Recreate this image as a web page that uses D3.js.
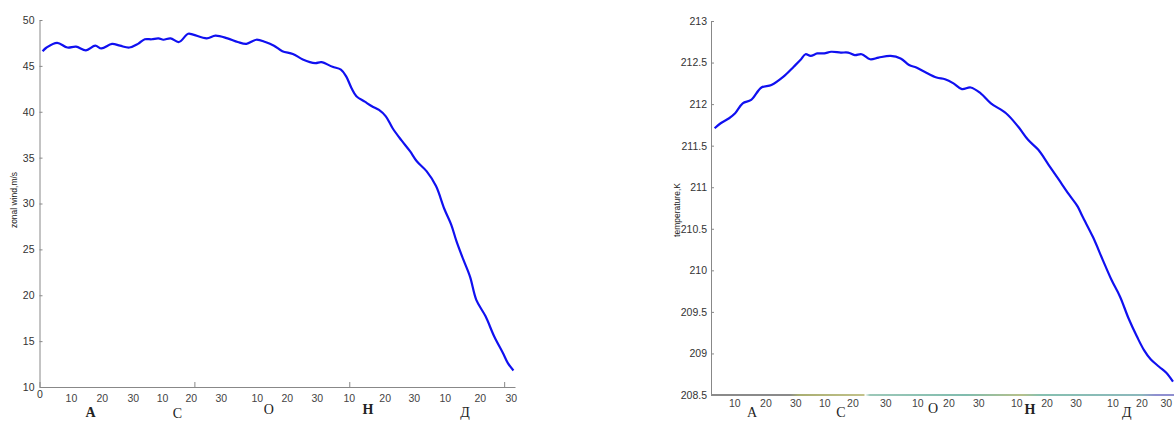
<!DOCTYPE html>
<html>
<head>
<meta charset="utf-8">
<script src="https://cdn.jsdelivr.net/npm/d3@7"></script>
<style>
  body { margin: 0; background: #fff; }
  svg { display: block; }
  .tick text { font-family: "Liberation Sans", Arial, sans-serif; font-size: 10.5px; fill: #333; }
  .axis path, .axis line { stroke: #888; }
  .daylab { font-family: "Liberation Sans", Arial, sans-serif; font-size: 10.5px; fill: #444; }
  .month { font-family: "Liberation Serif", "Times New Roman", serif; font-size: 14px; fill: #222; }
  .ylab { font-family: "Liberation Sans", Arial, sans-serif; font-size: 8.5px; fill: #222; }
</style>
</head>
<body>
<div id="chart"></div>
<script>
// day of season (0 = 1 Aug) and zonal wind, m/s
var windDays = [1, 2.3, 5.7, 9, 11.8, 15, 18, 20, 23.4, 26, 29, 31.8, 34, 36.2, 38.4, 40, 42.3, 45, 48, 49.6,
  54, 56.8, 60.7, 64, 66.8, 70, 72.9, 75.7, 78.4, 81.8, 85, 89, 91, 94.6, 97.3, 99, 100.7, 102.3, 105, 107.3,
  109.6, 111.8, 114, 116.8, 119.6, 121.8, 125, 128, 130.7, 132.9, 134.6, 136.8, 139, 141, 144, 146.8, 149.6, 151.2, 153];
var windVals = [46.6, 47.0, 47.5, 47.0, 47.1, 46.7, 47.2, 46.9, 47.4, 47.2, 47.0, 47.4, 47.9, 47.9, 48.0, 47.85, 48.0, 47.6, 48.5, 48.4,
  48.0, 48.3, 48.0, 47.6, 47.4, 47.85, 47.6, 47.2, 46.6, 46.3, 45.7, 45.3, 45.4, 44.9, 44.6, 43.85, 42.6, 41.7, 41.1, 40.6,
  40.2, 39.5, 38.2, 36.9, 35.7, 34.6, 33.5, 31.9, 29.4, 27.7, 25.9, 23.9, 22.0, 19.5, 17.7, 15.5, 13.7, 12.6, 11.8];

// day of season and temperature, K
var tempDays = [1.2, 3.2, 6, 8, 10.5, 13.3, 16.7, 20, 24, 27.4, 29.6, 31.3, 33, 35.2, 37.5, 39.8, 43, 45.4, 47.6, 49.9,
  52.7, 55.5, 59.5, 62.8, 65.6, 68, 70.7, 74.7, 77.5, 80.3, 83.1, 86, 89.3, 92.7, 97.7, 101.7, 105, 108.4, 111.8, 115.2,
  118.6, 121.4, 123, 126.5, 129.8, 132.7, 135.5, 138.3, 141.1, 143.4, 145.6, 148.4, 150.7, 153];
var tempVals = [211.71, 211.77, 211.83, 211.89, 212.01, 212.05, 212.20, 212.23, 212.33, 212.45, 212.53, 212.60, 212.58, 212.61, 212.61, 212.63, 212.62, 212.62, 212.59, 212.60,
  212.54, 212.56, 212.58, 212.55, 212.47, 212.44, 212.39, 212.32, 212.30, 212.25, 212.18, 212.20, 212.13, 212.01, 211.89, 211.73, 211.57, 211.45, 211.27, 211.09,
  210.91, 210.77, 210.65, 210.40, 210.12, 209.88, 209.68, 209.42, 209.20, 209.04, 208.93, 208.84, 208.77, 208.66];

// hand-placed day labels under the x axis
var dayText = ["10", "20", "30", "10", "20", "30", "10", "20", "30", "10", "20", "30", "10", "20", "30"];
var windLabelDays = [10.3, 20.3, 30.3, 39.7, 49, 58.7, 70.3, 80, 89.7, 100, 111.6, 121, 131, 142.3, 152.3];
var tempLabelDays = [7.9, 18.2, 28.1, 37.7, 47, 57.9, 68.5, 78.8, 88.7, 101.3, 111.3, 120.9, 133.1, 142.7, 150.8];
var months = ["А", "С", "О", "Н", "Д"];
var windMonthDays = [16.5, 44.5, 74, 106, 137.4];
var tempMonthDays = [13.6, 43, 73.5, 105.6, 137.7];

var windTicks = [10, 15, 20, 25, 30, 35, 40, 45, 50];
var tempTicks = [208.5, 209, 209.5, 210, 210.5, 211, 211.5, 212, 212.5, 213];

var svg = d3.select("#chart").append("svg").attr("width", 1174).attr("height", 421);

// ---------- left: zonal wind ----------
var x1 = d3.scaleLinear().domain([0, 153.5]).range([39.5, 515]),
    y1 = d3.scaleLinear().domain([10, 50]).range([387, 20]);

svg.append("g").attr("class", "axis")
    .attr("transform", "translate(39.5,0)")
    .call(d3.axisLeft(y1).tickValues(windTicks).tickSizeInner(-3).tickSizeOuter(0).tickPadding(5).tickFormat(d3.format("d")));

svg.append("g").attr("class", "axis")
    .attr("transform", "translate(0,387)")
    .call(d3.axisBottom(x1).tickValues([0, 50, 100, 150]).tickSizeInner(-5).tickSizeOuter(0).tickPadding(4)
      .tickFormat(function(d) { return d === 0 ? "0" : ""; }));

svg.append("g").selectAll("text").data(windLabelDays).join("text")
    .attr("class", "daylab")
    .attr("x", function(d) { return x1(d); })
    .attr("y", 402)
    .attr("text-anchor", "middle")
    .text(function(d, i) { return dayText[i]; });

svg.append("g").selectAll("text").data(windMonthDays).join("text")
    .attr("class", "month")
    .attr("x", function(d) { return x1(d); })
    .attr("y", function(d, i) { return [417, 418, 414, 414, 417][i]; })
    .attr("text-anchor", "middle")
    .style("font-weight", function(d, i) { return i === 0 || i === 3 ? "bold" : "normal"; })
    .text(function(d, i) { return months[i]; });

svg.append("text").attr("class", "ylab")
    .attr("transform", "translate(17,200) rotate(-90)")
    .attr("text-anchor", "middle")
    .text("zonal wind,m/s");

var wline = d3.line()
    .curve(d3.curveCatmullRom)
    .x(function(d, i) { return x1(windDays[i]); })
    .y(function(d) { return y1(d); });

svg.append("path").datum(windVals)
    .attr("d", wline)
    .attr("fill", "none").attr("stroke", "#1010f0").attr("stroke-width", 2.2)
    .attr("stroke-linejoin", "round");

// ---------- right: temperature ----------
var x2 = d3.scaleLinear().domain([0, 153]).range([711, 1173]),
    y2 = d3.scaleLinear().domain([208.5, 213]).range([395, 21]);

var grad = svg.append("defs").append("linearGradient")
    .attr("id", "baxis").attr("gradientUnits", "userSpaceOnUse")
    .attr("x1", 711).attr("x2", 1174).attr("y1", 0).attr("y2", 0);
[[0, "#8a8a8a"], [0.17, "#8a8a8a"], [0.19, "#a9ae72"], [0.33, "#c2c28a"], [0.333, "#ffffff"], [0.343, "#9cc8b8"],
 [0.55, "#80bcae"], [0.67, "#b6c08a"], [0.71, "#86c0b0"], [0.93, "#8cb8bc"], [0.96, "#8f8fd0"], [1, "#8f8fd0"]]
  .forEach(function(s) { grad.append("stop").attr("offset", s[0]).attr("stop-color", s[1]); });

svg.append("g").attr("class", "axis")
    .attr("transform", "translate(711,0)")
    .call(d3.axisLeft(y2).tickValues(tempTicks).tickSizeInner(-3).tickSizeOuter(0).tickPadding(4).tickFormat(d3.format("")));

svg.append("line")
    .attr("x1", x2(0)).attr("x2", 1174)
    .attr("y1", y2(208.5)).attr("y2", y2(208.5))
    .attr("stroke", "url(#baxis)").attr("stroke-width", 2.2);

svg.append("g").selectAll("text").data(tempLabelDays).join("text")
    .attr("class", "daylab")
    .attr("x", function(d) { return x2(d); })
    .attr("y", 407)
    .attr("text-anchor", "middle")
    .text(function(d, i) { return dayText[i]; });

svg.append("g").selectAll("text").data(tempMonthDays).join("text")
    .attr("class", "month")
    .attr("x", function(d) { return x2(d); })
    .attr("y", function(d, i) { return [417, 417, 413, 414, 417][i]; })
    .attr("text-anchor", "middle")
    .style("font-weight", function(d, i) { return i === 3 ? "bold" : "normal"; })
    .text(function(d, i) { return months[i]; });

svg.append("text").attr("class", "ylab")
    .attr("transform", "translate(680,210) rotate(-90)")
    .attr("text-anchor", "middle")
    .text("temperature,K");

var tline = d3.line()
    .curve(d3.curveCatmullRom)
    .x(function(d, i) { return x2(tempDays[i]); })
    .y(function(d) { return y2(d); });

svg.append("path").datum(tempVals)
    .attr("d", tline)
    .attr("fill", "none").attr("stroke", "#1010f0").attr("stroke-width", 2.2)
    .attr("stroke-linejoin", "round");
</script>
</body>
</html>
